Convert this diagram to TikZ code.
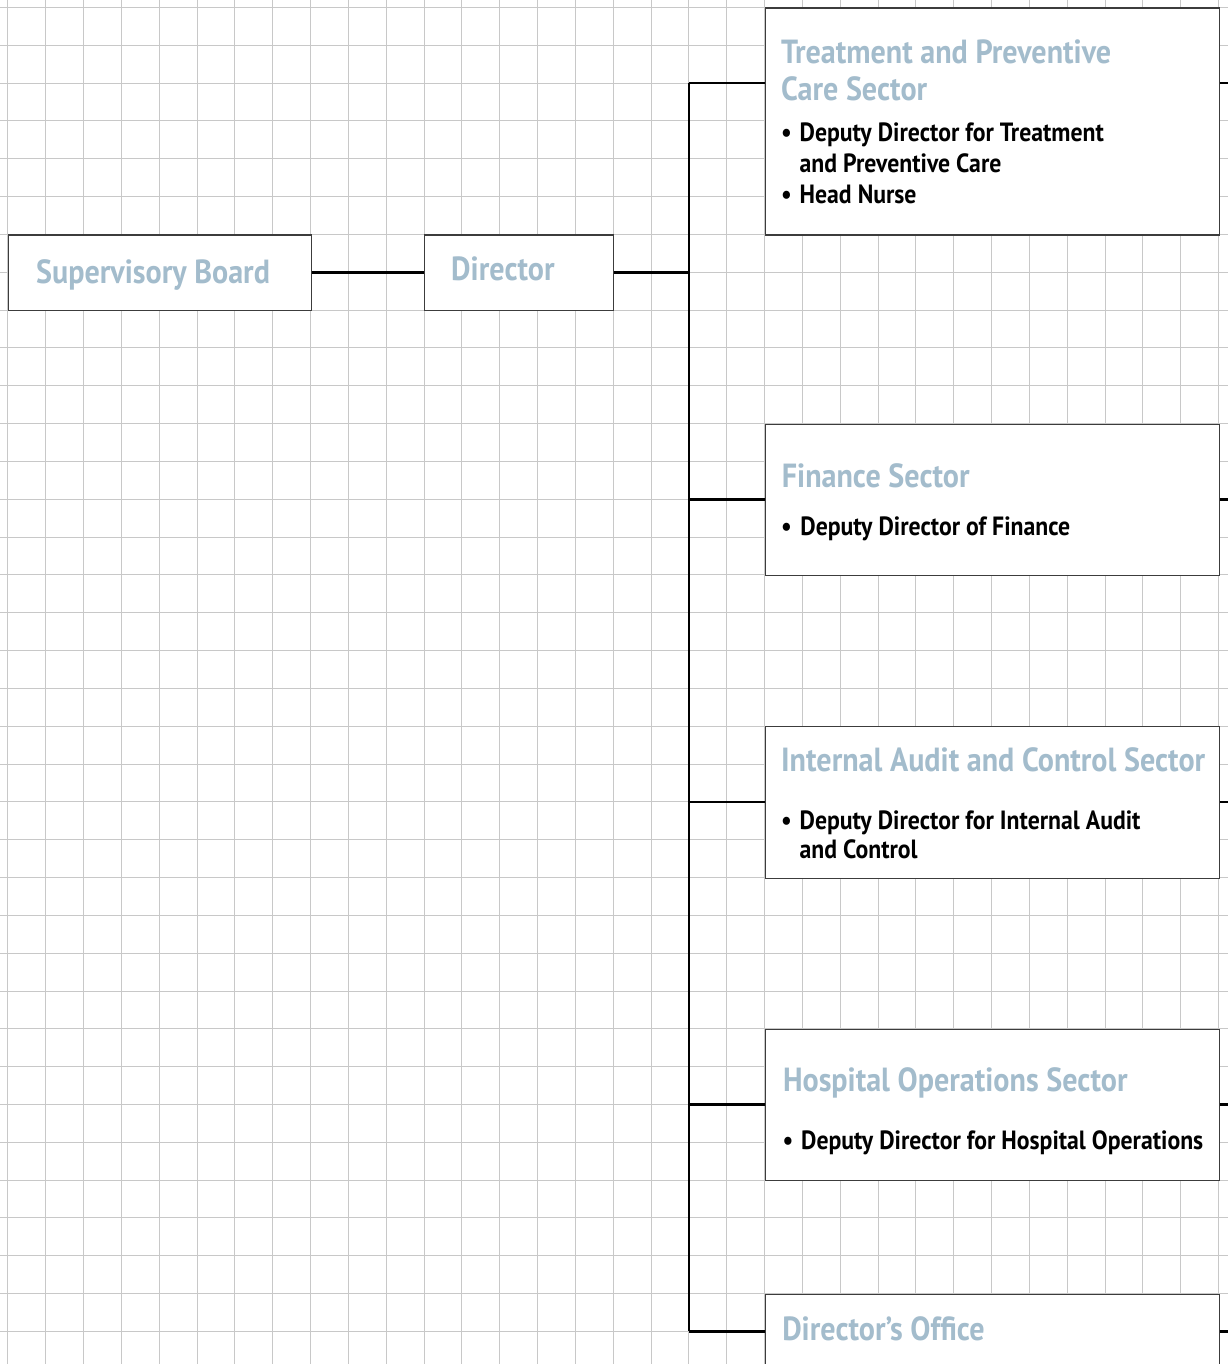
\documentclass[tikz,border=0pt]{standalone}
\usepackage{fontspec}
\setmainfont{PT Sans}[FakeStretch=0.9]
\definecolor{titleblue}{RGB}{163,188,204}
\definecolor{gridgray}{RGB}{200,200,200}
\definecolor{boxline}{RGB}{60,60,60}
\newlength\mylen
\AtBeginDocument{%
  \settowidth\mylen{\bfseries\fontsize{10}{12}\selectfont Internal Audit and Control Sector}%
  \pgfmathsetmacro\tsize{10*319/\mylen}%
  \settowidth\mylen{\bfseries\fontsize{10}{12}\selectfont Deputy Director for Hospital Operations}%
  \pgfmathsetmacro\isize{10*302.4/\mylen}%
}
\newcommand\titlef{\bfseries\fontsize{\tsize}{\tsize}\selectfont}
\newcommand\itemf{\bfseries\fontsize{\isize}{\isize}\selectfont}
\tikzset{
  gridline/.style={draw=gridgray, line width=0.75pt},
  orgbox/.style={draw=boxline, line width=0.9pt, fill=white, rectangle, inner sep=0pt, anchor=north west},
  conn/.style={draw=black, line width=2pt},
  ttl/.style={anchor=base west, inner sep=0pt, text=titleblue, font=\titlef},
  itm/.style={anchor=base west, inner sep=0pt, text=black, font=\itemf},
  bul/.style={anchor=base, inner sep=0pt, text=black, font=\itemf},
}
\begin{document}
\begin{tikzpicture}[x=1cm,y=-1cm]
\useasboundingbox (-0.211,-0.196) rectangle (32.25,35.86);
\clip (-0.211,-0.196) rectangle (32.25,35.86);
\fill[white] (-0.211,-0.196) rectangle (32.25,35.86);
% grid
\foreach \i in {0,...,32} \draw[gridline] (\i,-0.5) -- (\i,36.5);
\foreach \j in {0,...,35} \draw[gridline] (-0.5,\j) -- (33,\j);
% boxes
\node[orgbox, minimum width=8cm, minimum height=2cm] (sb) at (0,6) {};
\node[orgbox, minimum width=5cm, minimum height=2cm] (dir) at (11,6) {};
\node[orgbox, minimum width=12cm, minimum height=6cm] (b1) at (20,0) {};
\node[orgbox, minimum width=12cm, minimum height=4cm] (b2) at (20,11) {};
\node[orgbox, minimum width=12cm, minimum height=4cm] (b3) at (20,19) {};
\node[orgbox, minimum width=12cm, minimum height=4cm] (b4) at (20,27) {};
\node[orgbox, minimum width=12cm, minimum height=4cm] (b5) at (20,34) {};
% junctions on the trunk
\coordinate (j1) at (18,2);
\coordinate (j2) at (18,13);
\coordinate (j3) at (18,21);
\coordinate (j4) at (18,29);
\coordinate (j5) at (18,35);
\coordinate (edge) at (32.8,0);
% connectors
\draw[conn] (sb.east) -- (dir.west);
\draw[conn] (dir.east) -- (dir.east -| j1);
\draw[conn] (j1) -- (j5);
\foreach \k in {1,...,5}{
  \draw[conn] (j\k) -- (j\k -| b\k.west);
  \draw[conn] (j\k -| b\k.east) -- (j\k -| edge);
}
% titles
\node[ttl] (sbT) at (0.74,7.285) {Supervisory Board};
\node[ttl] (dirT) at (11.71,7.23) {Director};
\node[ttl] (b1Ta) at (20.43,1.478) {Treatment and Preventive};
\node[ttl] (b1Tb) at (20.43,2.448) {Care Sector};
\node[ttl] (b2T) at (20.45,12.70) {Finance Sector};
\node[ttl] (b3T) at (20.43,20.20) {Internal Audit and Control Sector};
\node[ttl] (b4T) at (20.48,28.66) {Hospital Operations Sector};
\node[ttl] (b5T) at (20.46,35.25) {Director’s Office};
% items
\node[bul] (b1u1) at (20.58,3.55) {•};
\node[itm] (b1i1) at (20.92,3.55) {Deputy Director for Treatment};
\node[itm] (b1i2) at (20.92,4.37) {and Preventive Care};
\node[bul] (b1u2) at (20.58,5.196) {•};
\node[itm] (b1i3) at (20.92,5.196) {Head Nurse};
\node[bul] (b2u1) at (20.58,13.95) {•};
\node[itm] (b2i1) at (20.94,13.95) {Deputy Director of Finance};
\node[bul] (b3u1) at (20.58,21.74) {•};
\node[itm] (b3i1) at (20.92,21.74) {Deputy Director for Internal Audit};
\node[itm] (b3i2) at (20.92,22.49) {and Control};
\node[bul] (b4u1) at (20.62,30.18) {•};
\node[itm] (b4i1) at (20.96,30.18) {Deputy Director for Hospital Operations};
\end{tikzpicture}
\end{document}
